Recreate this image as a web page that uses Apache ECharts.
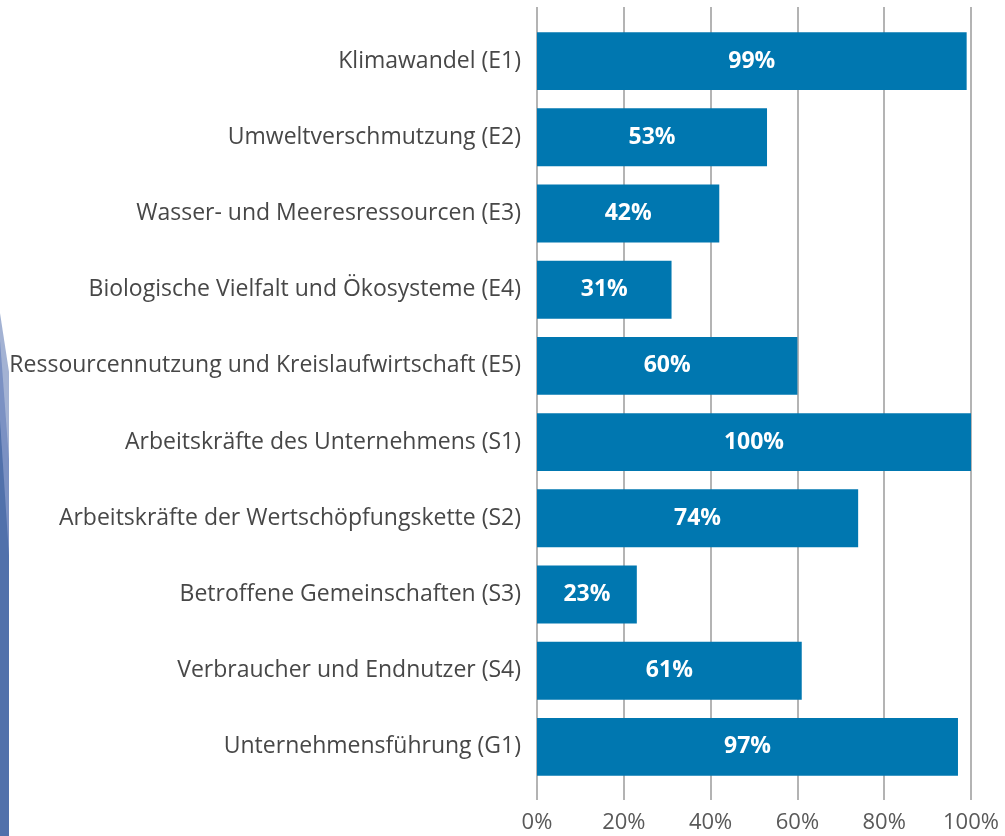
<!DOCTYPE html>
<html>
<head>
<meta charset="utf-8">
<script src="https://cdn.jsdelivr.net/npm/echarts@6/dist/echarts.min.js"></script>
<style>
  html, body { margin: 0; padding: 0; background: #fff; }
  #chart { width: 1005px; height: 836px; }
</style>
</head>
<body>
<div id="chart"></div>
<script>
const categories = [
  "Klimawandel (E1)",
  "Umweltverschmutzung (E2)",
  "Wasser- und Meeresressourcen (E3)",
  "Biologische Vielfalt und Ökosysteme (E4)",
  "Ressourcennutzung und Kreislaufwirtschaft (E5)",
  "Arbeitskräfte des Unternehmens (S1)",
  "Arbeitskräfte der Wertschöpfungskette (S2)",
  "Betroffene Gemeinschaften (S3)",
  "Verbraucher und Endnutzer (S4)",
  "Unternehmensführung (G1)"
];
const shares = [99, 53, 42, 31, 60, 100, 74, 23, 61, 97];

const chart = echarts.init(document.getElementById("chart"));
const gridColor = "#9b9b9b";

chart.setOption({
  animation: false,
  textStyle: { fontFamily: "Open Sans" },
  // blue decoration on the left edge
  graphic: [
    { type: "polygon", shape: { points: [[0, 313], [9, 372], [9, 836], [0, 836]] }, style: { fill: "#a3b2d3" } },
    { type: "polygon", shape: { points: [[0, 340], [9, 460], [9, 836], [0, 836]] }, style: { fill: "#7b91c3" } },
    { type: "polygon", shape: { points: [[0, 420], [9, 556], [9, 836], [0, 836]] }, style: { fill: "#5171ab" } }
  ],
  grid: { left: 537, right: 34, top: 23, bottom: 51 },
  xAxis: [
    {
      type: "value",
      min: 0,
      max: 100,
      interval: 20,
      position: "bottom",
      axisLine: { show: false },
      axisTick: { show: true, length: 15, lineStyle: { color: gridColor, width: 1.5 } },
      splitLine: { show: true, lineStyle: { color: gridColor, width: 1.5 } },
      axisLabel: { formatter: "{value}%", color: "#595959", fontSize: 22, margin: 27 }
    },
    {
      type: "value",
      min: 0,
      max: 100,
      interval: 20,
      position: "top",
      axisLine: { show: false },
      axisTick: { show: true, length: 16, lineStyle: { color: gridColor, width: 1.5 } },
      splitLine: { show: false },
      axisLabel: { show: false }
    }
  ],
  yAxis: {
    type: "category",
    inverse: true,
    data: categories,
    axisLine: { show: false },
    axisTick: { show: false },
    axisLabel: { color: "#474747", fontSize: 23, margin: 16 }
  },
  series: [
    {
      type: "bar",
      data: shares,
      barCategoryGap: "24%",
      itemStyle: { color: "#0077b0" },
      label: {
        show: true,
        position: "inside",
        formatter: "{c}%",
        color: "#fff",
        fontWeight: "bold",
        fontSize: 23
      }
    }
  ]
});
</script>
</body>
</html>
